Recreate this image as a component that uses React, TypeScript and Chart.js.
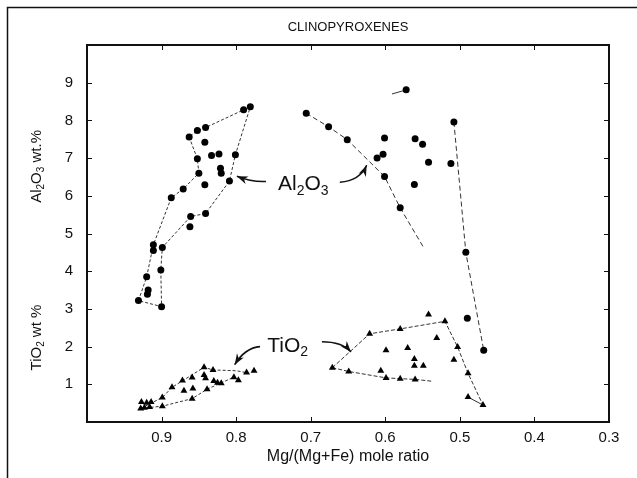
import React, { useEffect, useRef } from 'react';
import { Chart, registerables } from 'chart.js';
Chart.register(...registerables);

// ---- axis ticks ----
const xTickValues = [1.0, 0.9, 0.8, 0.7, 0.6, 0.5, 0.4, 0.3];
const xTickLabels = ['', '0.9', '0.8', '0.7', '0.6', '0.5', '0.4', '0.3'];
const yTickValues = [0, 1, 2, 3, 4, 5, 6, 7, 8, 9, 10];
const yTickLabels = ['', '1', '2', '3', '4', '5', '6', '7', '8', '9', ''];

// ---- Al2O3 analyses (circles) ----
const alX = [0.863, 0.852, 0.841, 0.790, 0.781, 0.842, 0.852, 0.833, 0.823, 0.801, 0.850, 0.821, 0.820, 0.842, 0.809, 0.871, 0.887, 0.841, 0.861, 0.862, 0.911, 0.911, 0.899, 0.901, 0.920, 0.918, 0.919, 0.931, 0.900,
  0.706, 0.676, 0.651, 0.601, 0.560, 0.550, 0.611, 0.603, 0.542, 0.512, 0.601, 0.561, 0.580, 0.572, 0.508, 0.492, 0.490, 0.468];
const alY = [7.56, 7.73, 7.81, 8.28, 8.36, 7.42, 6.98, 7.07, 7.11, 7.09, 6.60, 6.73, 6.60, 6.29, 6.39, 6.18, 5.95, 5.53, 5.45, 5.18, 4.70, 4.55, 4.63, 4.03, 3.85, 3.50, 3.39, 3.22, 3.06,
  8.19, 7.83, 7.49, 7.53, 7.51, 7.37, 7.00, 7.10, 6.89, 6.86, 6.51, 6.30, 5.68, 8.81, 7.96, 4.50, 2.75, 1.90];

// ---- TiO2 analyses (triangles) ----
const tiX = [0.843, 0.831, 0.786, 0.776, 0.803, 0.797, 0.843, 0.841, 0.830, 0.825, 0.820, 0.859, 0.872, 0.886, 0.858, 0.870, 0.839, 0.899, 0.859, 0.927, 0.920, 0.914, 0.928, 0.923, 0.916, 0.899,
  0.542, 0.520, 0.580, 0.621, 0.531, 0.503, 0.599, 0.570, 0.561, 0.561, 0.549, 0.508, 0.489, 0.671, 0.649, 0.606, 0.599, 0.580, 0.560, 0.489, 0.469];
const tiY = [1.45, 1.38, 1.31, 1.36, 1.19, 1.11, 1.25, 1.16, 1.09, 1.04, 1.03, 1.18, 1.10, 0.92, 0.89, 0.83, 0.87, 0.65, 0.62, 0.53, 0.51, 0.53, 0.36, 0.38, 0.40, 0.42,
  2.85, 2.67, 2.47, 2.34, 2.23, 1.99, 1.90, 1.96, 1.67, 1.49, 1.49, 1.65, 1.29, 1.44, 1.34, 1.36, 1.17, 1.15, 1.13, 0.66, 0.45];

// ---- field outlines ----
const alLeftFieldX = [0.863, 0.852, 0.850, 0.871, 0.887, 0.911, 0.920, 0.931, 0.900, 0.901, 0.899, 0.861, 0.841, 0.809, 0.801, 0.781, 0.790, 0.841, 0.852, 0.863];
const alLeftFieldY = [7.56, 6.98, 6.60, 6.18, 5.95, 4.70, 3.85, 3.22, 3.06, 4.03, 4.63, 5.45, 5.53, 6.39, 7.09, 8.36, 8.28, 7.81, 7.73, 7.56];
const alMidTrendX = [0.706, 0.676, 0.651, 0.601, 0.580, 0.549];
const alMidTrendY = [8.19, 7.83, 7.49, 6.51, 5.68, 4.64];
const alRightTrendX = [0.508, 0.492, 0.468];
const alRightTrendY = [7.96, 4.50, 1.90];
const alStubX = [0.591, 0.572];
const alStubY = [8.70, 8.81];
const tiLeftUpperX = [0.928, 0.899, 0.886, 0.843, 0.831, 0.800, 0.786];
const tiLeftUpperY = [0.36, 0.65, 0.92, 1.45, 1.38, 1.36, 1.31];
const tiLeftLowerX = [0.928, 0.899, 0.859, 0.839, 0.803];
const tiLeftLowerY = [0.36, 0.42, 0.62, 0.87, 1.19];
const tiRightUpperX = [0.671, 0.621, 0.580, 0.520, 0.503, 0.489, 0.469];
const tiRightUpperY = [1.44, 2.34, 2.47, 2.67, 1.99, 1.29, 0.45];
const tiRightLowerX = [0.671, 0.649, 0.599, 0.580, 0.560, 0.537];
const tiRightLowerY = [1.44, 1.34, 1.17, 1.15, 1.13, 1.08];
const tiRightStubX = [0.489, 0.469];
const tiRightStubY = [0.66, 0.45];

const FONT = "'Liberation Sans', Arial, Helvetica, sans-serif";

const zip = (xs: number[], ys: number[]) => xs.map((x, i) => ({ x, y: ys[i] }));

type Part = [string, boolean];

function drawParts(ctx: CanvasRenderingContext2D, parts: Part[], cx: number, cy: number, size: number) {
  const sub = Math.round(size * 0.68);
  let w = 0;
  for (const [t, s] of parts) {
    ctx.font = `${s ? sub : size}px ${FONT}`;
    w += ctx.measureText(t).width;
  }
  let x = cx - w / 2;
  ctx.textAlign = 'left';
  ctx.textBaseline = 'middle';
  for (const [t, s] of parts) {
    ctx.font = `${s ? sub : size}px ${FONT}`;
    ctx.fillText(t, x, s ? cy + size * 0.3 : cy);
    x += ctx.measureText(t).width;
  }
}

function drawArrow(ctx: CanvasRenderingContext2D, t: number[], c: number[], h: number[]) {
  ctx.beginPath();
  ctx.moveTo(t[0], t[1]);
  ctx.quadraticCurveTo(c[0], c[1], h[0], h[1]);
  ctx.lineWidth = 1.6;
  ctx.stroke();
  const ang = Math.atan2(h[1] - c[1], h[0] - c[0]);
  const L = 11, W = 4;
  ctx.beginPath();
  ctx.moveTo(h[0], h[1]);
  ctx.lineTo(h[0] - L * Math.cos(ang) + W * Math.sin(ang), h[1] - L * Math.sin(ang) - W * Math.cos(ang));
  ctx.lineTo(h[0] - L * 0.7 * Math.cos(ang), h[1] - L * 0.7 * Math.sin(ang));
  ctx.lineTo(h[0] - L * Math.cos(ang) - W * Math.sin(ang), h[1] - L * Math.sin(ang) + W * Math.cos(ang));
  ctx.closePath();
  ctx.fill();
}

const decorPlugin = {
  id: 'decor',
  afterDraw(chart: any) {
    const { ctx, chartArea: a, scales } = chart;
    const xs = scales.x, ys = scales.y;
    const P = (x: number, y: number) => [xs.getPixelForValue(x), ys.getPixelForValue(y)];
    ctx.save();
    ctx.strokeStyle = '#111';
    ctx.fillStyle = '#111';
    // outer figure frame (left & top)
    ctx.lineWidth = 1.5;
    ctx.beginPath();
    ctx.moveTo(7.5, 478);
    ctx.lineTo(7.5, 7.5);
    ctx.lineTo(637, 7.5);
    ctx.stroke();
    // plot frame
    ctx.lineWidth = 2;
    ctx.strokeRect(a.left, a.top, a.right - a.left, a.bottom - a.top);
    // inward ticks
    ctx.lineWidth = 1;
    ctx.beginPath();
    xTickValues.forEach((v) => {
      if (v === 1.0 || v === 0.3) return;
      const px = Math.round(xs.getPixelForValue(v)) + 0.5;
      ctx.moveTo(px, a.bottom); ctx.lineTo(px, a.bottom - 5);
      ctx.moveTo(px, a.top); ctx.lineTo(px, a.top + 5);
    });
    yTickValues.forEach((v) => {
      if (v === 0 || v === 10) return;
      const py = Math.round(ys.getPixelForValue(v)) + 0.5;
      ctx.moveTo(a.left, py); ctx.lineTo(a.left + 5, py);
      ctx.moveTo(a.right, py); ctx.lineTo(a.right - 5, py);
    });
    ctx.stroke();
    // titles
    const cx = (a.left + a.right) / 2;
    ctx.textAlign = 'center';
    ctx.textBaseline = 'middle';
    ctx.font = `13px ${FONT}`;
    ctx.fillText('CLINOPYROXENES', cx, 27);
    ctx.font = `16px ${FONT}`;
    ctx.fillText('Mg/(Mg+Fe) mole ratio', cx, 457);
    // y-axis titles (rotated)
    ctx.save();
    ctx.translate(37, ys.getPixelForValue(6.78));
    ctx.rotate(-Math.PI / 2);
    drawParts(ctx, [['Al', false], ['2', true], ['O', false], ['3', true], [' wt.%', false]], 0, 0, 15);
    ctx.restore();
    ctx.save();
    ctx.translate(37, ys.getPixelForValue(2.24));
    ctx.rotate(-Math.PI / 2);
    drawParts(ctx, [['TiO', false], ['2', true], [' wt %', false]], 0, 0, 15);
    ctx.restore();
    // field labels
    const al = P(0.710, 6.30);
    drawParts(ctx, [['Al', false], ['2', true], ['O', false], ['3', true]], al[0], al[1], 21);
    const ti = P(0.731, 2.02);
    drawParts(ctx, [['TiO', false], ['2', true]], ti[0], ti[1], 21);
    // arrows
    drawArrow(ctx, P(0.760, 6.38), P(0.779, 6.36), P(0.799, 6.52));
    drawArrow(ctx, P(0.661, 6.36), P(0.634, 6.40), P(0.625, 6.81));
    drawArrow(ctx, P(0.768, 2.00), P(0.788, 1.97), P(0.802, 1.52));
    drawArrow(ctx, P(0.685, 2.13), P(0.658, 2.13), P(0.646, 1.86));
    ctx.restore();
  },
};

const lineDs = (label: string, xs: number[], ys: number[], dash: number[]) => ({
  label,
  data: zip(xs, ys),
  showLine: true,
  pointRadius: 0,
  borderColor: '#333',
  borderWidth: 1,
  borderDash: dash,
  fill: false,
  tension: 0,
});

export default function App() {
  const ref = useRef<HTMLCanvasElement | null>(null);
  useEffect(() => {
    if (!ref.current) return;
    const chart = new Chart(ref.current, {
      type: 'scatter',
      data: {
        datasets: [
          { label: 'Al2O3', data: zip(alX, alY), pointStyle: 'circle', pointRadius: 3.5, backgroundColor: '#000', borderWidth: 0 } as any,
          { label: 'TiO2', data: zip(tiX, tiY), pointStyle: 'triangle', pointRadius: 4, backgroundColor: '#000', borderWidth: 0 } as any,
          lineDs('alLeft', alLeftFieldX, alLeftFieldY, [3, 2]),
          lineDs('alMid', alMidTrendX, alMidTrendY, [5, 3]),
          lineDs('alRight', alRightTrendX, alRightTrendY, [5, 3]),
          lineDs('alStub', alStubX, alStubY, []),
          lineDs('tiLU', tiLeftUpperX, tiLeftUpperY, [3, 2]),
          lineDs('tiLL', tiLeftLowerX, tiLeftLowerY, [3, 2]),
          lineDs('tiRU', tiRightUpperX, tiRightUpperY, [4, 2]),
          lineDs('tiRL', tiRightLowerX, tiRightLowerY, [4, 2]),
          lineDs('tiRS', tiRightStubX, tiRightStubY, []),
        ],
      },
      options: {
        animation: false,
        responsive: false,
        layout: { padding: { left: 0, right: 28, top: 45, bottom: 0 } },
        plugins: { legend: { display: false }, tooltip: { enabled: false }, title: { display: false } },
        scales: {
          x: {
            type: 'linear',
            min: 0.3,
            max: 1.0,
            reverse: true,
            afterBuildTicks: (axis: any) => { axis.ticks = xTickValues.map((v) => ({ value: v })); },
            afterFit: (axis: any) => { axis.height = 56; },
            ticks: {
              callback: (_v: any, i: number) => xTickLabels[i],
              font: { family: FONT, size: 15 },
              color: '#111',
              padding: 7,
              maxRotation: 0,
              autoSkip: false,
            },
            grid: { display: false, drawTicks: false },
            border: { display: false },
          },
          y: {
            type: 'linear',
            min: 0,
            max: 10,
            afterBuildTicks: (axis: any) => { axis.ticks = yTickValues.map((v) => ({ value: v })); },
            afterFit: (axis: any) => { axis.width = 87; },
            ticks: {
              callback: (_v: any, i: number) => yTickLabels[i],
              font: { family: FONT, size: 15 },
              color: '#111',
              padding: 14,
              autoSkip: false,
            },
            grid: { display: false, drawTicks: false },
            border: { display: false },
          },
        },
      },
      plugins: [decorPlugin],
    });
    return () => chart.destroy();
  }, []);
  return (
    <div style={{ position: 'absolute', left: 0, top: 0, width: 637, height: 478, background: '#fff' }}>
      <canvas ref={ref} width={637} height={478} style={{ width: 637, height: 478, display: 'block' }} />
    </div>
  );
}
